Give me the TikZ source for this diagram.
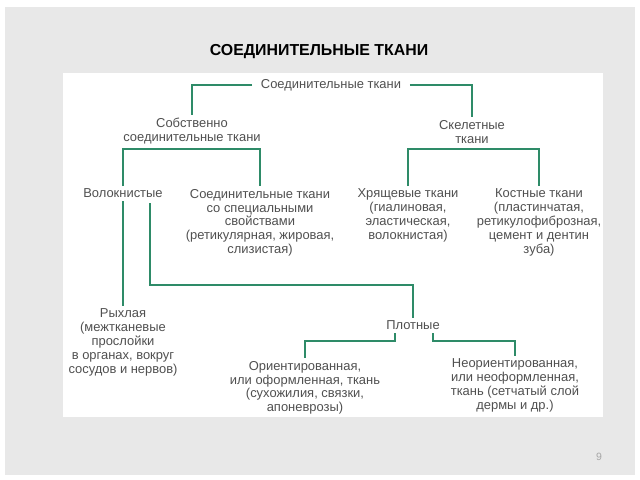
\documentclass[tikz,border=0pt]{standalone}
\usepackage{fontspec}
\setmainfont{Liberation Sans}
\usetikzlibrary{calc}
\definecolor{slidegray}{HTML}{E8E8E8}
\definecolor{branch}{HTML}{2E8B68}
\definecolor{txtgray}{HTML}{505050}
\tikzset{
  tissue/.style={anchor=north,align=center,inner sep=2pt,text=txtgray,
    font=\fontsize{9.2}{9.9}\selectfont},
  link/.style={draw=branch,line width=1.4pt}
}

\begin{document}
\begin{tikzpicture}[x=0.025cm,y=-0.025cm]
		%%%%% START %%%%%
		\useasboundingbox (0,0) rectangle (640,480);
		\fill[white] (0,0) rectangle (640,480);
		\fill[slidegray] (5,7) rectangle (635,475);
		\node[font=\bfseries\fontsize{11.3}{13}\selectfont] (title) at (319,52) {СОЕДИНИТЕЛЬНЫЕ ТКАНИ};
		\fill[white] (63,73) rectangle (603,417);
		\node[text=black!35,font=\fontsize{7.5}{9}\selectfont] (pagenum) at (599,457) {9};
		
		\node[tissue,inner xsep=6pt] (root) at (331,76) {Соединительные ткани};
		\node[tissue] (own) at (192,115) {Собственно\\соединительные ткани};
		\node[tissue] (skel) at (472,117) {Скелетные\\ткани};
		
		\node[tissue] (fib) at (123,186) {Волокнистые};
		\node[tissue] (spec) at (260,186) {Соединительные ткани\\со специальными\\свойствами\\(ретикулярная, жировая,\\слизистая)};
		\node[tissue] (cart) at (408,186) {Хрящевые ткани\\(гиалиновая,\\эластическая,\\волокнистая)};
		\node[tissue] (bone) at (539,186) {Костные ткани\\(пластинчатая,\\ретикулофиброзная,\\цемент и дентин\\зуба)};
		
		\node[tissue] (loose) at (123,306) {Рыхлая\\(межтканевые\\прослойки\\в органах, вокруг\\сосудов и нервов)};
		\node[tissue] (dense) at (413,318) {Плотные};
		\node[tissue] (orient) at (305,358) {Ориентированная,\\или оформленная, ткань\\(сухожилия, связки,\\апоневрозы)};
		\node[tissue] (unorient) at (515,356) {Неориентированная,\\или неоформленная,\\ткань (сетчатый слой\\дермы и др.)};
		
		\coordinate (ownbar) at (192,149);
		\coordinate (skelbar) at (472,149);
		\coordinate (fibout) at (150,203);
		\coordinate (densebar) at (413,285);
		\coordinate (denseleft) at (395,333);
		\coordinate (denseright) at (433,333);
		
		\draw[link] (root.west) -| (own.north);
		\draw[link] (root.east) -| (skel.north);
		\draw[link] (fib.north) |- (ownbar) -| (spec.north);
		\draw[link] (cart.north) |- (skelbar) -| (bone.north);
		\draw[link] (fib.south) -- (loose.north);
		\draw[link] (fibout) |- (densebar) -- (dense.north);
		\draw[link] (denseleft) -- ++(0,8) -| (orient.north);
		\draw[link] (denseright) -- ++(0,8) -| (unorient.north);
		%%%%% END %%%%%
\end{tikzpicture}
\end{document}
